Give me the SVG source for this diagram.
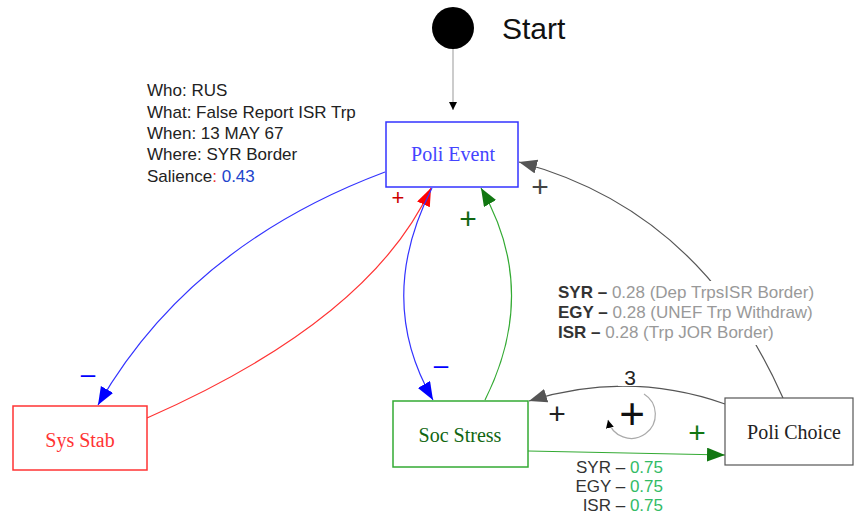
<svg xmlns="http://www.w3.org/2000/svg" width="855" height="519" viewBox="0 0 855 519">
<style>
.lbl{font-family:"Liberation Sans",Arial,sans-serif;font-size:17px;fill:#222}
.node{font-family:"Liberation Serif","Times New Roman",serif;font-size:20px;text-anchor:middle}
.sign{font-family:"Liberation Sans",Arial,sans-serif;text-anchor:middle;font-weight:300}
.conn{fill:none;stroke-width:1.2}
</style>
<defs>
<marker id="aBlue" markerUnits="userSpaceOnUse" markerWidth="20" markerHeight="16" refX="18" refY="7" orient="auto"><path d="M0,0 L18,7 L0,14 Z" fill="#0000ff"/></marker>
<marker id="aRed" markerUnits="userSpaceOnUse" markerWidth="20" markerHeight="16" refX="18" refY="7" orient="auto"><path d="M0,0 L18,7 L0,14 Z" fill="#ff0000"/></marker>
<marker id="aGreen" markerUnits="userSpaceOnUse" markerWidth="20" markerHeight="16" refX="18" refY="7" orient="auto"><path d="M0,0 L18,7 L0,14 Z" fill="#117711"/></marker>
<marker id="aGray" markerUnits="userSpaceOnUse" markerWidth="20" markerHeight="16" refX="18" refY="7" orient="auto"><path d="M0,0 L18,7 L0,14 Z" fill="#555"/></marker>
<marker id="aSmall" markerUnits="userSpaceOnUse" markerWidth="10" markerHeight="10" refX="8" refY="4" orient="auto"><path d="M0,0 L8,4 L0,8 Z" fill="#000"/></marker>
</defs>
<rect width="855" height="519" fill="#fff"/>

<g id="connectors">
<line x1="453" y1="49" x2="453" y2="110" stroke="#aaa" stroke-width="1.2" marker-end="url(#aSmall)"/>
<path class="conn" d="M385,172 Q190,245 98,405" stroke="#3333ff" marker-end="url(#aBlue)"/>
<path class="conn" d="M147,418 Q370,320 431,188" stroke="#ff3333" marker-end="url(#aRed)"/>
<path class="conn" d="M432,188 Q375,300 433,400" stroke="#3333ff" marker-end="url(#aBlue)"/>
<path class="conn" d="M485,400 Q540,290 481,188" stroke="#33aa33" marker-end="url(#aGreen)"/>
<path class="conn" d="M783,398 Q700,210 519,162" stroke="#555" marker-end="url(#aGray)"/>
<path class="conn" d="M725,404 Q628,370 529,401" stroke="#555" marker-end="url(#aGray)"/>
<path class="conn" d="M644,394 A24,24 0 1 1 608,420" stroke="#aaa" marker-end="url(#aSmall)"/>
<path class="conn" d="M528,451 L725,455" stroke="#33aa33" marker-end="url(#aGreen)"/>
<rect x="555" y="281" width="268" height="64" fill="#fff"/>
<rect x="560" y="458" width="122" height="58" fill="#fff"/>
<rect x="618" y="362" width="26" height="24" fill="#fff"/>
<text class="sign" x="88" y="383" font-size="26" font-weight="bold" fill="#0000ff">–</text>
<text class="sign" x="398" y="205" font-size="22" fill="#cc0000">+</text>
<text class="sign" x="441" y="374" font-size="26" font-weight="bold" fill="#0000ff">–</text>
<text class="sign" x="468" y="229" font-size="30" fill="#116611">+</text>
<text class="sign" x="540" y="197" font-size="30" fill="#444">+</text>
<text class="sign" x="557" y="424" font-size="30" fill="#222">+</text>
<text class="sign" x="632" y="429" font-size="44" fill="#111">+</text>
<text class="sign" x="630" y="385" font-size="21" fill="#222">3</text>
<text class="sign" x="697" y="443" font-size="30" fill="#117711">+</text>
</g>

<g id="start">
<circle cx="453" cy="28" r="21" fill="#000"/>
<text x="502" y="39" font-family="Liberation Sans,Arial,sans-serif" font-size="30" fill="#111">Start</text>
</g>

<g id="info">
<text class="lbl" x="147" y="96">Who: RUS</text>
<text class="lbl" x="147" y="118">What: False Report ISR Trp</text>
<text class="lbl" x="147" y="139">When: 13 MAY 67</text>
<text class="lbl" x="147" y="160">Where: SYR Border</text>
<text class="lbl" x="147" y="182">Salience<tspan fill="#ee3333">:</tspan> <tspan fill="#2244cc">0.43</tspan></text>
</g>

<g id="poli-event">
<rect x="386" y="122" width="132" height="65" fill="#fff" stroke="#3333ff" stroke-width="1.5"/>
<text class="node" x="453" y="161" fill="#4444ff">Poli Event</text>
</g>

<g id="sys-stab">
<rect x="13" y="406" width="134" height="64" fill="#fff" stroke="#ff3333" stroke-width="1.5"/>
<text class="node" x="80" y="447" fill="#ff3333">Sys Stab</text>
</g>

<g id="soc-stress">
<rect x="393" y="401" width="135" height="66" fill="#fff" stroke="#33aa33" stroke-width="1.5"/>
<text class="node" x="460" y="442" fill="#116611">Soc Stress</text>
</g>

<g id="poli-choice">
<rect x="725" y="398" width="128" height="67" fill="#fff" stroke="#555" stroke-width="1.2"/>
<text class="node" x="794" y="439" fill="#222">Poli Choice</text>
</g>

<g id="choice-labels">
<text class="lbl" x="558" y="298"><tspan font-weight="bold" fill="#333">SYR –</tspan> <tspan fill="#999">0.28 (Dep TrpsISR Border)</tspan></text>
<text class="lbl" x="558" y="318"><tspan font-weight="bold" fill="#333">EGY –</tspan> <tspan fill="#999">0.28 (UNEF Trp Withdraw)</tspan></text>
<text class="lbl" x="558" y="338"><tspan font-weight="bold" fill="#333">ISR –</tspan> <tspan fill="#999">0.28 (Trp JOR Border)</tspan></text>
</g>

<g id="stress-labels">
<text class="lbl" x="663" y="473" text-anchor="end"><tspan fill="#333">SYR –</tspan> <tspan fill="#33bb66">0.75</tspan></text>
<text class="lbl" x="663" y="492" text-anchor="end"><tspan fill="#333">EGY –</tspan> <tspan fill="#33bb66">0.75</tspan></text>
<text class="lbl" x="663" y="511" text-anchor="end"><tspan fill="#333">ISR –</tspan> <tspan fill="#33bb66">0.75</tspan></text>
</g>
</svg>
